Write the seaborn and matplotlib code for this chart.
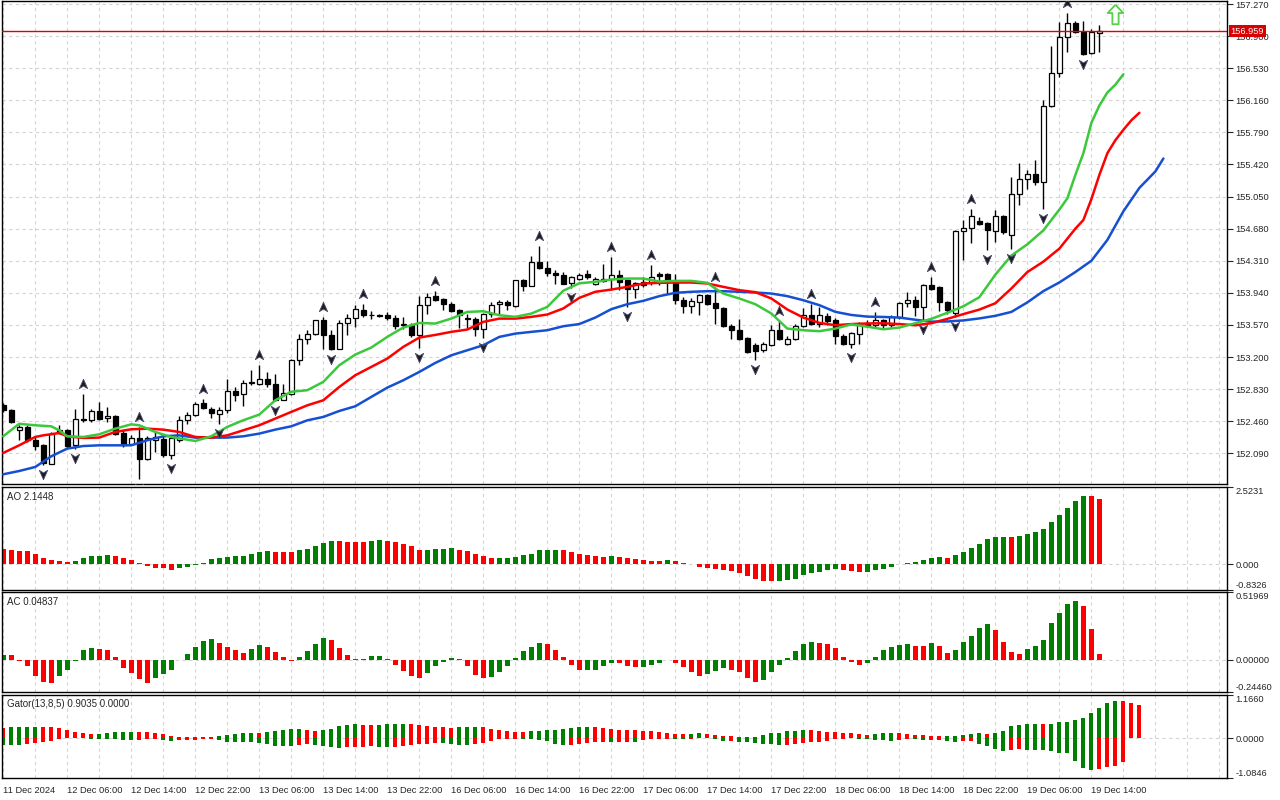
import numpy as np
import matplotlib
matplotlib.use("Agg")
import matplotlib.pyplot as plt
from matplotlib.transforms import offset_copy, blended_transform_factory
import seaborn as sns

sns.set_style("white")
plt.rcParams["font.family"] = ["Liberation Sans", "DejaVu Sans"]

# --- H1 candles, bar 0 = 11 Dec 22:00 ---
opens = [152.644, 152.586, 152.360, 152.394, 152.240, 152.182, 151.971, 152.355, 152.355, 152.182,
         152.478, 152.478, 152.574, 152.501, 152.524, 152.324, 152.201, 152.271, 152.028, 152.240,
         152.259, 152.067, 152.240, 152.478, 152.536, 152.671, 152.605, 152.540, 152.586, 152.809,
         152.771, 152.905, 152.894, 152.951, 152.894, 152.709, 152.778, 153.163, 153.413, 153.470,
         153.624, 153.451, 153.297, 153.597, 153.655, 153.747, 153.686, 153.690, 153.682, 153.655,
         153.574, 153.574, 153.451, 153.805, 153.901, 153.874, 153.817, 153.740, 153.651, 153.643,
         153.528, 153.693, 153.817, 153.836, 153.786, 154.086, 154.020, 154.297, 154.232, 154.174,
         154.143, 154.048, 154.105, 154.155, 154.040, 154.105, 154.105, 154.144, 154.086, 153.990,
         154.067, 154.067, 154.155, 154.163, 154.067, 153.863, 153.786, 153.836, 153.913, 153.825,
         153.771, 153.555, 153.509, 153.421, 153.336, 153.278, 153.336, 153.517, 153.348, 153.413,
         153.555, 153.682, 153.586, 153.671, 153.625, 153.440, 153.355, 153.470, 153.578, 153.566,
         153.632, 153.574, 153.662, 153.824, 153.855, 153.778, 154.028, 154.009, 153.835, 153.709,
         154.651, 154.682, 154.766, 154.747, 154.655, 154.824, 154.605, 155.085, 155.258, 155.308,
         155.220, 156.093, 156.478, 156.885, 157.047, 156.951, 156.701, 156.939]
highs = [152.671, 152.605, 152.413, 152.413, 152.278, 152.201, 152.336, 152.413, 152.374, 152.605,
         152.778, 152.605, 152.682, 152.624, 152.532, 152.355, 152.298, 152.394, 152.286, 152.336,
         152.286, 152.298, 152.517, 152.567, 152.682, 152.721, 152.624, 152.624, 152.951, 152.855,
         152.940, 153.047, 153.105, 153.028, 153.009, 152.894, 153.182, 153.470, 153.509, 153.632,
         153.663, 153.509, 153.624, 153.693, 153.797, 153.817, 153.732, 153.701, 153.716, 153.682,
         153.663, 153.593, 153.901, 153.940, 153.963, 153.886, 153.836, 153.759, 153.701, 153.663,
         153.709, 153.836, 153.855, 153.863, 154.093, 154.105, 154.363, 154.478, 154.309, 154.209,
         154.182, 154.132, 154.171, 154.209, 154.125, 154.278, 154.355, 154.201, 154.105, 154.067,
         154.125, 154.259, 154.182, 154.171, 154.155, 153.894, 153.875, 153.932, 153.932, 154.009,
         153.778, 153.578, 153.644, 153.432, 153.363, 153.375, 153.567, 153.617, 153.440, 153.578,
         153.771, 153.809, 153.778, 153.702, 153.655, 153.471, 153.489, 153.605, 153.624, 153.720,
         153.643, 153.682, 153.835, 153.951, 153.901, 154.047, 154.124, 154.016, 153.847, 154.662,
         154.778, 154.912, 154.816, 154.759, 154.893, 154.835, 155.278, 155.432, 155.355, 155.470,
         156.162, 156.785, 157.066, 157.162, 157.078, 157.078, 156.978, 157.028]
lows = [152.567, 152.440, 152.240, 152.221, 152.124, 151.951, 151.963, 152.309, 152.150, 152.140,
        152.451, 152.451, 152.471, 152.451, 152.298, 152.163, 152.182, 151.798, 152.009, 152.105,
        152.048, 152.028, 152.221, 152.432, 152.517, 152.605, 152.501, 152.424, 152.555, 152.694,
        152.632, 152.874, 152.874, 152.855, 152.690, 152.700, 152.759, 153.105, 153.355, 153.451,
        153.297, 153.278, 153.290, 153.451, 153.547, 153.663, 153.643, 153.667, 153.632, 153.528,
        153.528, 153.432, 153.309, 153.701, 153.847, 153.747, 153.720, 153.540, 153.528, 153.440,
        153.424, 153.663, 153.682, 153.740, 153.778, 153.963, 154.017, 154.220, 154.132, 154.047,
        154.040, 154.000, 154.086, 154.105, 154.028, 154.067, 153.971, 153.971, 153.778, 153.875,
        154.009, 154.028, 154.028, 153.932, 153.809, 153.709, 153.709, 153.682, 153.798, 153.586,
        153.548, 153.413, 153.402, 153.248, 153.163, 153.259, 153.325, 153.402, 153.336, 153.394,
        153.548, 153.567, 153.548, 153.567, 153.355, 153.335, 153.305, 153.347, 153.547, 153.547,
        153.539, 153.547, 153.643, 153.778, 153.670, 153.632, 153.970, 153.732, 153.701, 153.662,
        154.316, 154.509, 154.720, 154.432, 154.528, 154.624, 154.451, 154.951, 155.143, 155.181,
        154.912, 156.085, 156.431, 156.720, 156.939, 156.681, 156.689, 156.720]
closes = [152.586, 152.451, 152.390, 152.240, 152.171, 151.978, 152.317, 152.332, 152.171, 152.490,
          152.490, 152.574, 152.490, 152.521, 152.317, 152.182, 152.271, 152.028, 152.271, 152.278,
          152.067, 152.271, 152.478, 152.536, 152.655, 152.617, 152.555, 152.586, 152.809, 152.767,
          152.905, 152.913, 152.951, 152.886, 152.709, 152.790, 153.163, 153.413, 153.470, 153.624,
          153.451, 153.297, 153.597, 153.655, 153.759, 153.682, 153.682, 153.674, 153.655, 153.555,
          153.582, 153.451, 153.805, 153.893, 153.863, 153.817, 153.732, 153.682, 153.636, 153.528,
          153.693, 153.797, 153.836, 153.797, 154.086, 154.020, 154.297, 154.232, 154.170, 154.143,
          154.047, 154.125, 154.144, 154.125, 154.094, 154.078, 154.144, 154.067, 153.990, 154.048,
          154.028, 154.125, 154.132, 154.086, 153.863, 153.786, 153.848, 153.913, 153.817, 153.767,
          153.555, 153.509, 153.413, 153.259, 153.271, 153.348, 153.517, 153.413, 153.413, 153.555,
          153.682, 153.586, 153.682, 153.617, 153.440, 153.355, 153.478, 153.578, 153.559, 153.632,
          153.566, 153.662, 153.824, 153.855, 153.778, 154.028, 153.989, 153.835, 153.739, 154.651,
          154.682, 154.824, 154.739, 154.670, 154.824, 154.643, 155.085, 155.258, 155.308, 155.220,
          156.093, 156.470, 156.885, 157.047, 156.951, 156.693, 156.943, 156.959]

# fractal bars
up_fractals = [10, 17, 25, 32, 40, 45, 54, 67, 76, 81, 89, 97, 101, 109, 116, 121, 133]
down_fractals = [5, 9, 17, 21, 27, 34, 41, 52, 60, 71, 78, 94, 106, 115, 119, 123, 126, 130, 135]

# alligator lines (read at sample bars, already shifted forward)
lips_bars = [0, 2, 4, 6, 7, 8, 10, 12, 14, 16, 17, 19, 21, 24, 26, 28, 30, 32, 34, 36, 38, 40, 42, 44,
             46, 48, 50, 52, 54, 56, 58, 60, 62, 64, 66, 68, 70, 72, 74, 76, 78, 80, 82, 84, 86, 88,
             89, 90, 92, 94, 96, 98, 100, 102, 104, 106, 108, 110, 112, 114, 116, 118, 120, 122, 124,
             126, 128, 130, 132, 133, 134, 135, 136, 137, 138, 139, 140]
lips_vals = [152.286, 152.430, 152.413, 152.401, 152.355, 152.286, 152.278, 152.309, 152.374, 152.424,
             152.413, 152.336, 152.278, 152.232, 152.286, 152.394, 152.471, 152.536, 152.701, 152.800,
             152.817, 152.913, 153.105, 153.228, 153.309, 153.432, 153.540, 153.593, 153.586, 153.643,
             153.720, 153.728, 153.682, 153.663, 153.701, 153.778, 153.965, 154.050, 154.067, 154.094,
             154.105, 154.105, 154.071, 154.078, 154.078, 154.055, 153.990, 153.932, 153.875, 153.809,
             153.702, 153.528, 153.509, 153.498, 153.528, 153.576, 153.550, 153.520, 153.540, 153.590,
             153.640, 153.710, 153.785, 153.890, 154.150, 154.370, 154.500, 154.660, 154.900, 155.030,
             155.300, 155.550, 155.900, 156.100, 156.250, 156.340, 156.460]
teeth_bars = [0, 2, 4, 5, 7, 8, 10, 12, 14, 16, 18, 20, 22, 24, 26, 28, 30, 32, 34, 36, 38, 40, 42, 44,
              46, 48, 50, 52, 54, 56, 58, 60, 62, 64, 66, 68, 70, 72, 74, 76, 78, 80, 82, 84, 86, 88,
              90, 92, 94, 96, 98, 100, 102, 104, 106, 108, 110, 112, 114, 116, 118, 120, 122, 124, 126,
              128, 130, 132, 134, 135, 136, 137, 138, 139, 140, 141, 142]
teeth_vals = [152.094, 152.182, 152.278, 152.297, 152.324, 152.286, 152.267, 152.271, 152.336, 152.367,
              152.374, 152.363, 152.336, 152.278, 152.271, 152.297, 152.355, 152.413, 152.490, 152.567,
              152.643, 152.701, 152.855, 152.990, 153.086, 153.182, 153.317, 153.424, 153.455, 153.490,
              153.517, 153.605, 153.643, 153.643, 153.663, 153.690, 153.760, 153.882, 153.952, 153.978,
              154.009, 154.048, 154.055, 154.059, 154.059, 154.048, 154.009, 153.971, 153.948, 153.875,
              153.748, 153.655, 153.594, 153.567, 153.580, 153.587, 153.589, 153.580, 153.566, 153.590,
              153.640, 153.695, 153.747, 153.820, 153.990, 154.180, 154.300, 154.450, 154.680, 154.780,
              155.020, 155.300, 155.550, 155.700, 155.820, 155.930, 156.016]
jaw_bars = [0, 2, 4, 6, 8, 10, 12, 14, 16, 18, 20, 22, 24, 26, 28, 30, 32, 34, 36, 38, 40, 42, 44, 46,
            48, 50, 52, 54, 56, 58, 60, 62, 64, 66, 68, 70, 72, 74, 76, 78, 80, 82, 84, 86, 88, 90, 92,
            94, 96, 98, 100, 102, 104, 106, 108, 110, 112, 114, 116, 118, 120, 122, 124, 126, 128, 130,
            132, 134, 136, 138, 140, 142, 144, 145]
jaw_vals = [151.848, 151.886, 151.932, 152.055, 152.144, 152.174, 152.182, 152.182, 152.182, 152.240,
            152.286, 152.297, 152.271, 152.271, 152.271, 152.286, 152.317, 152.363, 152.401, 152.470,
            152.509, 152.578, 152.632, 152.740, 152.847, 152.932, 153.028, 153.132, 153.220, 153.278,
            153.336, 153.432, 153.470, 153.490, 153.509, 153.555, 153.580, 153.655, 153.752, 153.809,
            153.848, 153.902, 153.940, 153.952, 153.959, 153.959, 153.952, 153.944, 153.932, 153.902,
            153.855, 153.798, 153.721, 153.685, 153.666, 153.662, 153.655, 153.630, 153.608, 153.610,
            153.622, 153.645, 153.675, 153.720, 153.830, 153.960, 154.060, 154.180, 154.310, 154.550,
            154.880, 155.150, 155.340, 155.489]

# oscillators
ao = [0.490, 0.485, 0.436, 0.430, 0.327, 0.196, 0.131, 0.098, 0.090, 0.100,
      0.196, 0.262, 0.270, 0.294, 0.262, 0.196, 0.131, 0.033, -0.050, -0.110,
      -0.130, -0.165, -0.110, -0.075, -0.030, 0.045, 0.164, 0.207, 0.240, 0.262,
      0.270, 0.327, 0.392, 0.425, 0.420, 0.415, 0.410, 0.458, 0.490, 0.589,
      0.687, 0.752, 0.748, 0.744, 0.740, 0.736, 0.770, 0.785, 0.780, 0.720,
      0.654, 0.589, 0.470, 0.480, 0.490, 0.495, 0.520, 0.458, 0.425, 0.327,
      0.262, 0.196, 0.200, 0.205, 0.229, 0.294, 0.327, 0.458, 0.460, 0.465,
      0.458, 0.392, 0.327, 0.305, 0.262, 0.255, 0.265, 0.229, 0.196, 0.164,
      0.131, 0.125, 0.098, 0.131, 0.098, 0.033, 0.005, -0.076, -0.131, -0.164,
      -0.196, -0.218, -0.294, -0.381, -0.490, -0.545, -0.550, -0.545, -0.512, -0.458,
      -0.349, -0.283, -0.240, -0.185, -0.163, -0.196, -0.218, -0.250, -0.240, -0.174,
      -0.152, -0.087, 0.010, 0.033, 0.065, 0.131, 0.207, 0.229, 0.225, 0.294,
      0.392, 0.523, 0.654, 0.818, 0.883, 0.888, 0.880, 0.916, 0.981, 1.046,
      1.144, 1.373, 1.602, 1.831, 2.060, 2.224, 2.220, 2.1448]
ac = [0.040, 0.038, -0.005, -0.048, -0.119, -0.166, -0.174, -0.119, -0.073, -0.010,
      0.078, 0.091, 0.086, 0.078, 0.025, -0.060, -0.098, -0.149, -0.174, -0.141,
      -0.106, -0.076, 0.003, 0.045, 0.098, 0.146, 0.161, 0.129, 0.098, 0.078,
      0.053, 0.086, 0.113, 0.098, 0.061, 0.025, -0.005, 0.023, 0.068, 0.126,
      0.166, 0.151, 0.091, 0.038, 0.008, 0.010, 0.030, 0.032, 0.008, -0.035,
      -0.086, -0.119, -0.136, -0.098, -0.043, -0.013, 0.015, 0.008, -0.048, -0.111,
      -0.141, -0.131, -0.091, -0.043, 0.015, 0.068, 0.098, 0.129, 0.121, 0.078,
      0.025, -0.035, -0.078, -0.076, -0.073, -0.048, -0.020, -0.023, -0.048, -0.055,
      -0.054, -0.040, -0.025, -0.003, -0.020, -0.050, -0.093, -0.119, -0.106, -0.081,
      -0.060, -0.078, -0.093, -0.136, -0.169, -0.154, -0.093, -0.035, 0.015, 0.068,
      0.121, 0.136, 0.129, 0.121, 0.091, 0.025, -0.018, -0.035, -0.020, 0.023,
      0.078, 0.098, 0.113, 0.121, 0.106, 0.104, 0.129, 0.106, 0.053, 0.076,
      0.136, 0.182, 0.242, 0.272, 0.227, 0.136, 0.061, 0.045, 0.083, 0.106,
      0.151, 0.280, 0.363, 0.431, 0.454, 0.416, 0.235, 0.04837]
gator_up = [0.284, 0.290, 0.295, 0.300, 0.305, 0.300, 0.298, 0.284, 0.220, 0.160,
            0.133, 0.115, 0.118, 0.124, 0.150, 0.165, 0.168, 0.160, 0.158, 0.133,
            0.097, 0.044, 0.036, 0.034, 0.020, 0.022, 0.025, 0.044, 0.070, 0.115,
            0.140, 0.143, 0.140, 0.150, 0.186, 0.220, 0.240, 0.242, 0.220, 0.186,
            0.220, 0.257, 0.320, 0.363, 0.380, 0.365, 0.362, 0.366, 0.378, 0.381,
            0.384, 0.372, 0.363, 0.337, 0.310, 0.292, 0.284, 0.290, 0.300, 0.302,
            0.292, 0.257, 0.220, 0.186, 0.160, 0.158, 0.180, 0.203, 0.205, 0.220,
            0.248, 0.284, 0.300, 0.310, 0.300, 0.284, 0.248, 0.220, 0.215, 0.210,
            0.195, 0.190, 0.150, 0.124, 0.106, 0.100, 0.120, 0.130, 0.106, 0.090,
            0.062, 0.045, 0.030, 0.020, 0.035, 0.070, 0.124, 0.142, 0.177, 0.195,
            0.220, 0.212, 0.195, 0.168, 0.160, 0.142, 0.124, 0.106, 0.080, 0.097,
            0.124, 0.142, 0.124, 0.120, 0.089, 0.071, 0.053, 0.044, 0.048, 0.062,
            0.089, 0.106, 0.124, 0.110, 0.124, 0.195, 0.320, 0.354, 0.372, 0.375,
            0.372, 0.380, 0.425, 0.443, 0.496, 0.550, 0.673, 0.815, 0.940, 0.992,
            0.990, 0.940, 0.9035]
gator_dn = [0.177, 0.180, 0.190, 0.170, 0.140, 0.115, 0.090, 0.035, 0.010, 0.005,
            0.012, 0.020, 0.030, 0.035, 0.040, 0.050, 0.055, 0.045, 0.040, 0.035,
            0.050, 0.070, 0.065, 0.055, 0.045, 0.030, 0.015, 0.050, 0.095, 0.105,
            0.115, 0.120, 0.125, 0.160, 0.210, 0.225, 0.230, 0.200, 0.175, 0.190,
            0.210, 0.235, 0.260, 0.250, 0.240, 0.235, 0.225, 0.238, 0.250, 0.240,
            0.222, 0.200, 0.170, 0.150, 0.130, 0.140, 0.155, 0.180, 0.200, 0.170,
            0.125, 0.080, 0.040, 0.030, 0.020, 0.025, 0.040, 0.060, 0.090, 0.150,
            0.200, 0.190, 0.170, 0.145, 0.120, 0.115, 0.118, 0.105, 0.095, 0.100,
            0.060, 0.035, 0.018, 0.015, 0.019, 0.020, 0.018, 0.012, 0.007, 0.040,
            0.075, 0.070, 0.095, 0.110, 0.140, 0.150, 0.170, 0.190, 0.180, 0.160,
            0.140, 0.120, 0.100, 0.070, 0.040, 0.020, 0.005, 0.015, 0.035, 0.055,
            0.065, 0.075, 0.050, 0.020, 0.035, 0.050, 0.048, 0.046, 0.070, 0.095,
            0.090, 0.085, 0.150, 0.210, 0.300, 0.340, 0.330, 0.310, 0.320, 0.325,
            0.330, 0.350, 0.400, 0.420, 0.620, 0.800, 0.868, 0.840, 0.780, 0.750,
            0.650]

time_labels = ["11 Dec 2024", "12 Dec 06:00", "12 Dec 14:00", "12 Dec 22:00", "13 Dec 06:00",
               "13 Dec 14:00", "13 Dec 22:00", "16 Dec 06:00", "16 Dec 14:00", "16 Dec 22:00",
               "17 Dec 06:00", "17 Dec 14:00", "17 Dec 22:00", "18 Dec 06:00", "18 Dec 14:00",
               "18 Dec 22:00", "19 Dec 06:00", "19 Dec 14:00"]
label_step = 8
price_ticks = [152.090, 152.460, 152.830, 153.200, 153.570, 153.940, 154.310, 154.680,
               155.050, 155.420, 155.790, 156.160, 156.530, 156.900, 157.270]
main_range = (151.736, 157.305)
ao_range = (-0.8326, 2.5231)
ac_range = (-0.24460, 0.51969)
gator_range = (-1.0846, 1.1660)
signal_bar, signal_price = 139, 157.16

UP, DOWN = "#008000", "#ff0000"
GRID = "#d4d4d4"
FS = 6.7

fig = plt.figure(figsize=(12.8, 8), dpi=100)
W, H = 1280, 800


def panel(top, bottom):
    return fig.add_axes([2 / W, 1 - bottom / H, 1225 / W, (bottom - top) / H])


ax = panel(1, 484)
ax_ao = panel(487, 590)
ax_ac = panel(592, 692)
ax_gt = panel(695, 778)
axes = [ax, ax_ao, ax_ac, ax_gt]

for a in axes:
    a.set_xlim(-0.15, 152.95)
    for s in a.spines.values():
        s.set_color("black")
        s.set_linewidth(1.0)
    a.set_xticks(np.arange(0, 153, label_step))
    a.set_xticks(np.arange(0, 153, 4), minor=True)
    a.grid(True, axis="x", which="both", color=GRID, ls=(0, (3, 3)), lw=0.8)
    a.set_axisbelow(True)
    a.yaxis.tick_right()
    a.tick_params(axis="y", length=4, width=0.8, direction="out", labelsize=FS, pad=2)
    a.tick_params(axis="x", which="both", length=0, labelbottom=False)

# ---------- main chart ----------
o = np.array(opens)
h = np.array(highs)
l = np.array(lows)
c = np.array(closes)
bars = np.arange(len(o))
bull = c >= o
ax.vlines(bars, l, h, color="black", lw=1.0, zorder=2)
body_lo = np.minimum(o, c)
body_h = np.maximum(np.abs(c - o), 0.002)
ax.bar(bars, body_h, bottom=body_lo, width=0.62,
       color=np.where(bull, "white", "black"), edgecolor="black", linewidth=0.9, zorder=3)

sns.lineplot(x=jaw_bars, y=jaw_vals, ax=ax, color="#1550d2", lw=1.8, zorder=4)
sns.lineplot(x=teeth_bars, y=teeth_vals, ax=ax, color="#ff0000", lw=1.8, zorder=4)
sns.lineplot(x=lips_bars, y=lips_vals, ax=ax, color="#3cc83c", lw=1.8, zorder=4)

up_tr = offset_copy(ax.transData, fig=fig, y=10, units="dots")
dn_tr = offset_copy(ax.transData, fig=fig, y=-9, units="dots")
up_marker = [(0, 1), (0.8, -0.8), (0, -0.3), (-0.8, -0.8), (0, 1)]
dn_marker = [(x, -y) for x, y in up_marker]
ax.plot(up_fractals, h[up_fractals], ls="none", marker=up_marker, ms=7.5,
        color="#1c1c1c", mec="#4a4a6a", mew=0.6, transform=up_tr, zorder=5)
ax.plot(down_fractals, l[down_fractals], ls="none", marker=dn_marker, ms=7.5,
        color="#1c1c1c", mec="#4a4a6a", mew=0.6, transform=dn_tr, zorder=5)

arrow_marker = [(0, 1), (0.8, 0.15), (0.32, 0.15), (0.32, -1), (-0.32, -1), (-0.32, 0.15), (-0.8, 0.15), (0, 1)]
ax.plot([signal_bar], [signal_price], ls="none", marker=arrow_marker, ms=14,
        mfc="white", mec="#55d04a", mew=1.3, zorder=6)

ax.axhline(c[-1], color="#e00000", lw=1.0, zorder=4)
ax.set_ylim(*main_range)
ax.set_yticks(price_ticks, labels=[f"{v:.3f}" for v in price_ticks])
ax.grid(True, axis="y", color=GRID, ls=(0, (3, 3)), lw=0.8)
ax.annotate(f"{c[-1]:.3f}", xy=(1, c[-1]),
            xycoords=blended_transform_factory(ax.transAxes, ax.transData),
            xytext=(2.5, 0), textcoords="offset points", ha="left", va="center",
            color="white", fontsize=FS, annotation_clip=False, zorder=10,
            bbox=dict(boxstyle="square,pad=0.18", fc="#d80000", ec="none"))


# ---------- histograms ----------
def updown(vals, first):
    cols = [first]
    for prev, cur in zip(vals[:-1], vals[1:]):
        cols.append(UP if cur > prev else DOWN)
    return cols


def sub_axis(a, rng, fmt_top, fmt_zero, fmt_bot, title):
    a.set_ylim(*rng)
    a.axhline(0, color=GRID, ls=(0, (3, 3)), lw=0.8, zorder=0)
    a.set_yticks([rng[0], 0, rng[1]], labels=[fmt_bot, fmt_zero, fmt_top])
    tl = a.get_yticklabels()
    tl[0].set_va("bottom")
    tl[-1].set_va("top")
    a.text(0.004, 0.95, title, transform=a.transAxes, ha="left", va="top", fontsize=FS + 0.3)


ax_ao.bar(np.arange(len(ao)), ao, width=0.58, color=updown(ao, DOWN), linewidth=0)
sub_axis(ax_ao, ao_range, "2.5231", "0.000", "-0.8326", f"AO {ao[-1]:.4f}")

ax_ac.bar(np.arange(len(ac)), ac, width=0.58, color=updown(ac, UP), linewidth=0)
sub_axis(ax_ac, ac_range, "0.51969", "0.00000", "-0.24460", f"AC {ac[-1]:.5f}")

ax_gt.bar(np.arange(len(gator_up)), gator_up, width=0.5, color=updown(gator_up, DOWN), linewidth=0)
ax_gt.bar(np.arange(len(gator_dn)), -np.array(gator_dn), width=0.5, color=updown(gator_dn, UP), linewidth=0)
sub_axis(ax_gt, gator_range, "1.1660", "0.0000", "-1.0846",
         f"Gator(13,8,5) {gator_up[-1]:.4f} 0.0000")

# time axis under the last panel
ax_gt.set_xticks(np.arange(0, label_step * len(time_labels), label_step), labels=time_labels, ha="left")
ax_gt.tick_params(axis="x", which="major", length=4, width=0.8, direction="out",
                  labelbottom=True, labelsize=FS, pad=2)

fig.savefig("out.png", dpi=100, facecolor="white")
